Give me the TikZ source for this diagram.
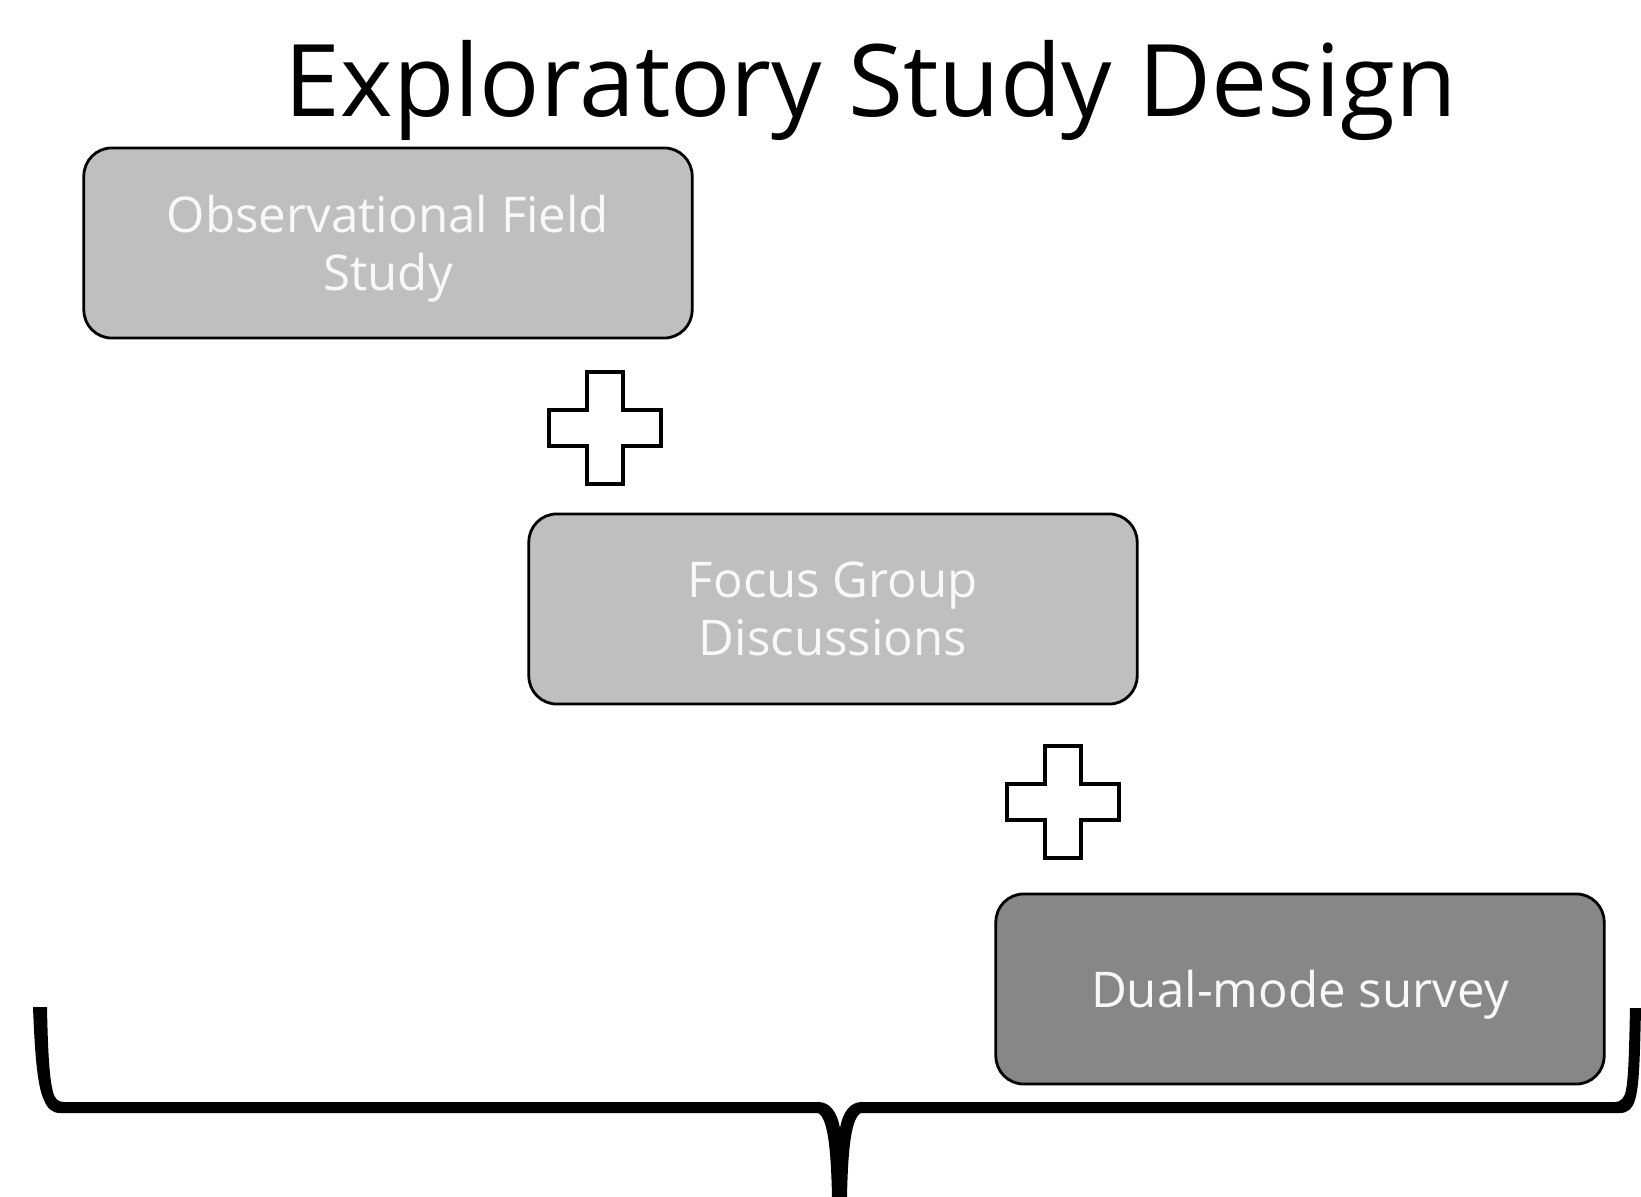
\documentclass[tikz,border=0pt]{standalone}
\usepackage{fontspec}
\setmainfont{Open Sans}
\usetikzlibrary{positioning}

\definecolor{lightstage}{RGB}{191,191,191}
\definecolor{darkstage}{RGB}{135,135,135}
\definecolor{stagetext}{RGB}{248,248,248}

\begin{document}
\begin{tikzpicture}[x=0.01cm, y=-0.01cm,
    stagebox/.style={draw=black, line width=0.8pt, rounded corners=0.28cm, fill=lightstage,
      minimum width=6.08cm, minimum height=1.9cm, text=stagetext, align=center, text depth=0pt,
      font=\fontsize{14}{16.5}\selectfont},
    plussign/.pic={\draw[line width=1pt, fill=white] (-18,-56) -- (18,-56) -- (18,-18) -- (56,-18)
      -- (56,18) -- (18,18) -- (18,56) -- (-18,56) -- (-18,18) -- (-56,18) -- (-56,-18) -- (-18,-18) -- cycle;}]
  \useasboundingbox (0,0) rectangle (1641,1197);

  % nadpis
  \node[anchor=base, font=\fontsize{28.5}{32}\selectfont] (title) at (871,117) {Exploratory Study Design};

  % tri faze studie
  \node[stagebox] (field) at (388,243) {Observational Field\\Study};
  \node[stagebox] (focus) at (833,609) {Focus Group\\Discussions};
  \node[stagebox, fill=darkstage] (survey) at (1300,989) {Dual-mode survey};

  % plus mezi fazemi
  \pic at (605,428) {plussign};
  \pic at (1063,802) {plussign};

  % spodni slozena zavorka
  \fill (33,1007) .. controls (35,1060) and (38,1088) .. (44,1100) .. controls (47,1108) and (52,1113) .. (60,1113)
    -- (818,1113) .. controls (828,1118) and (831,1150) .. (832,1197) -- (847,1197)
    .. controls (848,1150) and (851,1118) .. (861,1113) -- (1620,1113)
    .. controls (1628,1113) and (1633,1108) .. (1635,1100) .. controls (1639,1088) and (1640,1060) .. (1641,1008)
    -- (1630,1008) .. controls (1629,1060) and (1628,1085) .. (1625,1094) .. controls (1623,1099) and (1620,1102) .. (1615,1102)
    -- (862,1102) .. controls (850,1102) and (843,1112) .. (840,1128) .. controls (837,1112) and (830,1102) .. (818,1102)
    -- (64,1102) .. controls (58,1102) and (55,1099) .. (53,1092) .. controls (50,1080) and (48,1060) .. (47,1007) -- cycle;
\end{tikzpicture}
\end{document}
